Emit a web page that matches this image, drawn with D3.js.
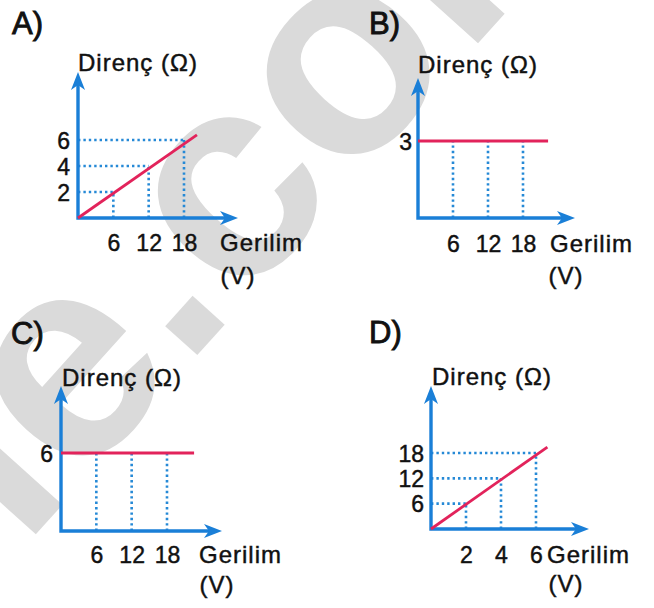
<!DOCTYPE html>
<html>
<head>
<meta charset="utf-8">
<script src="https://cdn.jsdelivr.net/npm/d3@7"></script>
<style>
  html, body { margin: 0; padding: 0; background: #fff; }
  svg { display: block; }
  text.lbl { font-family: "Liberation Sans", Arial, sans-serif; fill: #111; stroke: #111; stroke-width: 0.45px; }
</style>
</head>
<body>
<svg id="chart" width="654" height="608"></svg>
<script>
// ---------- data ----------
const panelLetters = ["A)", "B)", "C)", "D)"];
const yAxisTitle = "Direnç (Ω)";
const xAxisTitle = "Gerilim";
const xAxisUnit = "(V)";
const watermarkText = "le.com";

// A
const aXTicks = [6, 12, 18];
const aYTicks = [2, 4, 6];
const aLineV = [0, 20.2];
const aLineR = [0, 6.4];
const aGuideV = [6, 12, 18];
const aGuideR = [2, 4, 6];
// B
const bXTicks = [6, 12, 18];
const bYTicks = [3];
const bLineV = [0, 22.3];
const bLineR = [3, 3];
const bGuideV = [6, 12, 18];
const bGuideR = [3, 3, 3];
// C
const cXTicks = [6, 12, 18];
const cYTicks = [6];
const cLineV = [0, 22.6];
const cLineR = [6, 6];
const cGuideV = [6, 12, 18];
const cGuideR = [6, 6, 6];
// D
const dXTicks = [2, 4, 6];
const dYTicks = [6, 12, 18];
const dLineV = [0, 6.65];
const dLineR = [0, 19.4];
const dGuideV = [2, 4, 6];
const dGuideR = [6, 12, 18];

// ---------- layout ----------
const BLUE = "#1a7fd7";
const GUIDE = "#2589d6";
const RED = "#e2235b";

const panels = [
  { letter: panelLetters[0], xt: aXTicks, yt: aYTicks, lv: aLineV, lr: aLineR, gv: aGuideV, gr: aGuideR, hGuide: true,
    xDom: [0, 18], xRng: [78, 184], yDom: [0, 6], yRng: [218, 140], yTip: 72, xTip: 238,
    lx: 12, ly: 34, tx: 78, ty: 71, gx: 220, vx: 238, tickBase: 251, vBase: 284, yLabR: 70 },
  { letter: panelLetters[1], xt: bXTicks, yt: bYTicks, lv: bLineV, lr: bLineR, gv: bGuideV, gr: bGuideR, hGuide: false,
    xDom: [0, 18], xRng: [418, 523], yDom: [0, 3], yRng: [218, 141], yTip: 78, xTip: 575,
    lx: 369, ly: 34, tx: 418, ty: 73, gx: 550, vx: 566, tickBase: 252, vBase: 284, yLabR: 412 },
  { letter: panelLetters[2], xt: cXTicks, yt: cYTicks, lv: cLineV, lr: cLineR, gv: cGuideV, gr: cGuideR, hGuide: false,
    xDom: [0, 18], xRng: [61, 167], yDom: [0, 6], yRng: [531, 453], yTip: 386, xTip: 222,
    lx: 11, ly: 344, tx: 62, ty: 386, gx: 199, vx: 217, tickBase: 563, vBase: 593, yLabR: 53 },
  { letter: panelLetters[3], xt: dXTicks, yt: dYTicks, lv: dLineV, lr: dLineR, gv: dGuideV, gr: dGuideR, hGuide: true,
    xDom: [0, 6], xRng: [431, 536], yDom: [0, 18], yRng: [529, 453], yTip: 386, xTip: 589,
    lx: 369, ly: 343, tx: 432, ty: 385, gx: 547, vx: 566, tickBase: 563, vBase: 592, yLabR: 424 }
];

const svg = d3.select("#chart");
svg.append("rect").attr("width", 654).attr("height", 608).attr("fill", "#fff");

// watermark
svg.append("g")
  .attr("transform", "translate(128,432) rotate(-48)")
  .append("text")
  .attr("x", -158).attr("y", 0)
  .style("font-family", "'Liberation Sans', Arial, sans-serif")
  .style("font-weight", "bold")
  .style("font-size", "290px")
  .style("fill", "#dadada")
  .text(watermarkText);

panels.forEach(p => {
  const x = d3.scaleLinear().domain(p.xDom).range(p.xRng);
  const y = d3.scaleLinear().domain(p.yDom).range(p.yRng);
  const g = svg.append("g");
  const ox = x(0), oy = y(0);

  // guides
  p.gv.forEach((v, i) => {
    const r = p.gr[i];
    g.append("line").attr("x1", x(v)).attr("x2", x(v)).attr("y1", y(0)).attr("y2", y(r))
      .attr("stroke", GUIDE).attr("stroke-width", 2.6).attr("stroke-dasharray", "2.4,3");
    if (p.hGuide) {
      g.append("line").attr("x1", x(0)).attr("x2", x(v)).attr("y1", y(r)).attr("y2", y(r))
        .attr("stroke", GUIDE).attr("stroke-width", 2.6).attr("stroke-dasharray", "2.4,3");
    }
  });

  // axes
  g.append("path")
    .attr("d", `M${ox},${p.yTip + 10} V${oy} H${p.xTip - 10}`)
    .attr("fill", "none").attr("stroke", BLUE).attr("stroke-width", 3.4)
    .attr("stroke-linejoin", "miter");
  g.append("path")
    .attr("d", `M${ox},${p.yTip} L${ox + 7},${p.yTip + 18} L${ox},${p.yTip + 13} L${ox - 7},${p.yTip + 18} Z`)
    .attr("fill", BLUE);
  g.append("path")
    .attr("d", `M${p.xTip},${oy} L${p.xTip - 18},${oy - 7} L${p.xTip - 13},${oy} L${p.xTip - 18},${oy + 7} Z`)
    .attr("fill", BLUE);

  // red line
  const line = d3.line().x(d => x(d[0])).y(d => y(d[1]));
  g.append("path")
    .datum(p.lv.map((v, i) => [v, p.lr[i]]))
    .attr("d", line)
    .attr("fill", "none").attr("stroke", RED).attr("stroke-width", 2.8);

  // x tick labels via axis generator
  const xAxis = d3.axisBottom(x).tickValues(p.xt).tickSize(0).tickPadding(0).tickFormat(d3.format("d"));
  const xg = g.append("g").attr("transform", `translate(0,${p.tickBase})`).call(xAxis);
  xg.select(".domain").remove();
  xg.selectAll("text").attr("class", "lbl").attr("dy", 0).attr("y", 0)
    .style("font-size", "23px").style("font-family", "'Liberation Sans', Arial, sans-serif");

  // y tick labels
  const yAxis = d3.axisLeft(y).tickValues(p.yt).tickSize(0).tickPadding(0).tickFormat(d3.format("d"));
  const yg = g.append("g").attr("transform", `translate(${p.yLabR},0)`).call(yAxis);
  yg.select(".domain").remove();
  yg.selectAll("text").attr("class", "lbl").attr("dy", "0.36em").attr("x", 0)
    .style("font-size", "23px").style("font-family", "'Liberation Sans', Arial, sans-serif");

  // panel letter
  g.append("text").attr("class", "lbl").attr("x", p.lx).attr("y", p.ly)
    .style("font-size", "31px").style("stroke-width", "0.9px").text(p.letter);
  // y axis title
  g.append("text").attr("class", "lbl").attr("x", p.tx).attr("y", p.ty).style("font-size", "24px")
    .style("letter-spacing", "1px").text(yAxisTitle);
  // x axis title
  g.append("text").attr("class", "lbl").attr("x", p.gx).attr("y", p.tickBase).style("font-size", "24px")
    .style("letter-spacing", "1px").text(xAxisTitle);
  g.append("text").attr("class", "lbl").attr("x", p.vx).attr("y", p.vBase).attr("text-anchor", "middle")
    .style("font-size", "24px").style("letter-spacing", "1px").text(xAxisUnit);
});
</script>
</body>
</html>
